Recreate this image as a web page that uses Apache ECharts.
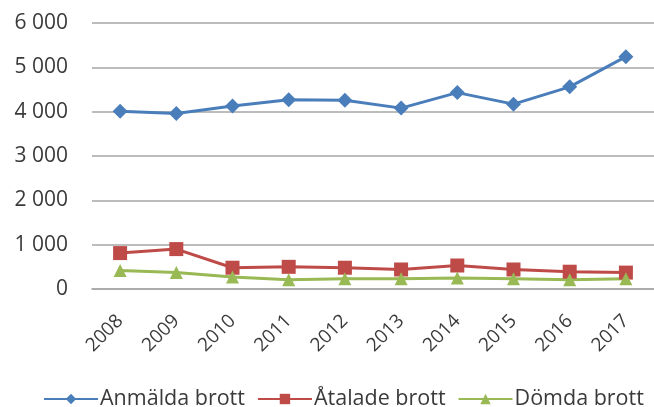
<!DOCTYPE html>
<html>
<head>
<meta charset="utf-8">
<script src="https://cdn.jsdelivr.net/npm/echarts@6/dist/echarts.min.js"></script>
<style>html,body{margin:0;padding:0;background:#fff}#c{width:654px;height:407px}</style>
</head>
<body>
<div id="c"></div>
<script>
const years = ['2008','2009','2010','2011','2012','2013','2014','2015','2016','2017'];
const anmalda = [4010, 3960, 4130, 4270, 4260, 4080, 4430, 4170, 4560, 5240];
const atalade = [810, 900, 480, 500, 480, 440, 530, 440, 390, 370];
const domda = [420, 370, 270, 210, 230, 230, 250, 230, 210, 230];
const yTicks = [0, 1000, 2000, 3000, 4000, 5000, 6000];

const font = '"Open Sans", sans-serif';
const chart = echarts.init(document.getElementById('c'), null, {renderer: 'canvas'});
function mk(name, data, color, symbol, size) {
  return {
    name, type: 'line', data,
    symbol, symbolSize: size,
    lineStyle: {color, width: 3},
    itemStyle: {color},
    emphasis: {disabled: true},
    animation: false
  };
}
chart.setOption({
  animation: false,
  grid: {left: 92, right: -3, top: 23, bottom: 118},
  xAxis: {
    type: 'category', data: years, boundaryGap: true,
    axisLine: {lineStyle: {color: '#a6a6a6', width: 1.5}},
    axisTick: {show: false},
    axisLabel: {rotate: 45, color: '#3a3a3a', fontSize: 19, fontFamily: font, margin: 29}
  },
  yAxis: {
    type: 'value', min: yTicks[0], max: yTicks[yTicks.length - 1], interval: 1000,
    axisLine: {show: false}, axisTick: {show: false},
    splitLine: {lineStyle: {color: '#a6a6a6', width: 1.5}},
    axisLabel: {color: '#3a3a3a', fontSize: 21, fontFamily: font, margin: 24,
      formatter: v => String(v).replace(/\B(?=(\d{3})+(?!\d))/g, ' ')}
  },
  legend: {
    top: 388, left: 43, itemWidth: 54, itemHeight: 13, itemGap: 12, padding: 0,
    textStyle: {color: '#3a3a3a', fontSize: 21.5, fontFamily: font, padding: [0, 0, 0, -3]},
    data: ['Anmälda brott', 'Åtalade brott', 'Dömda brott']
  },
  series: [
    mk('Anmälda brott', anmalda, '#4a7ebb', 'diamond', 15),
    mk('Åtalade brott', atalade, '#be4b48', 'rect', 14),
    mk('Dömda brott', domda, '#98b954', 'triangle', 13)
  ]
});
</script>
</body>
</html>
